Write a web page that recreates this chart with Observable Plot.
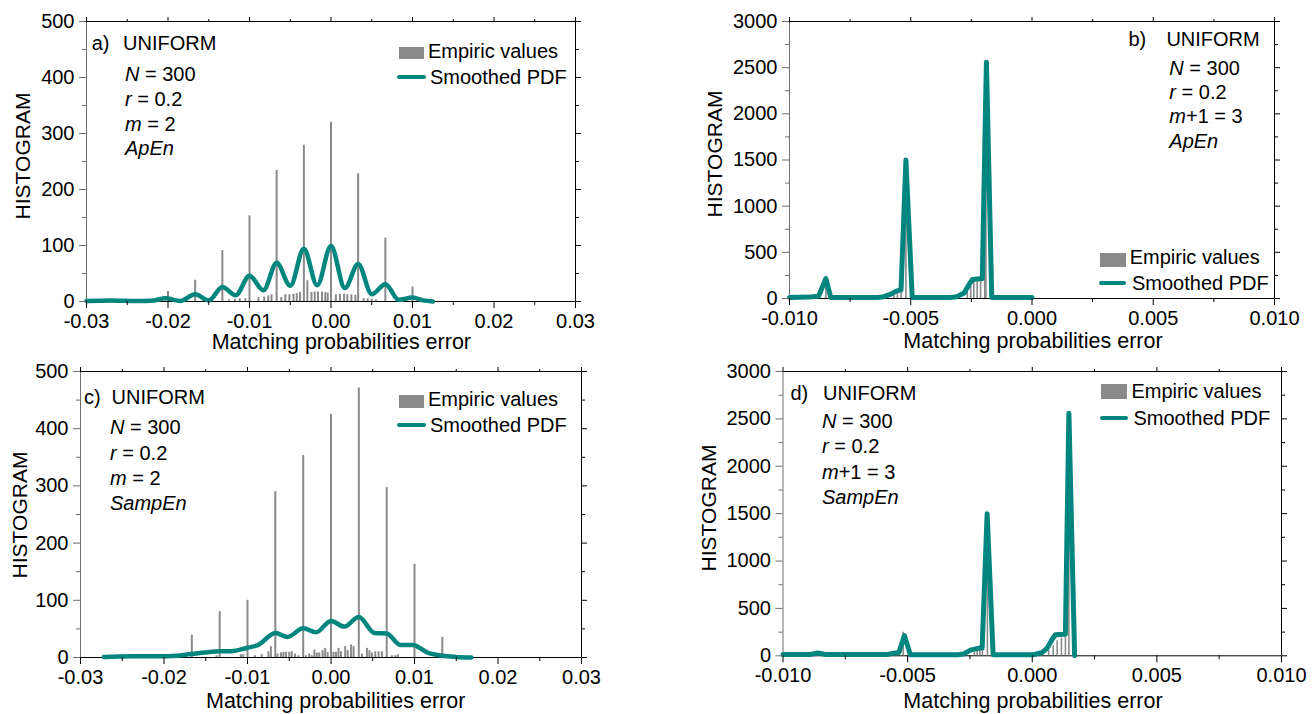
<!DOCTYPE html>
<html><head><meta charset="utf-8">
<script src="https://cdn.jsdelivr.net/npm/d3@7"></script>
<script src="https://cdn.jsdelivr.net/npm/@observablehq/plot@0.6"></script>
<style>
body{margin:0;background:#fff;}
#c{position:relative;width:1315px;height:714px;font-family:"Liberation Sans",Arial,sans-serif;color:#000;overflow:hidden;background:#fff}
.t{position:absolute;white-space:nowrap;line-height:1;font-size:20px}
.sw{position:absolute}
</style></head><body><div id="c"></div>
<script>
// ---------------- DATA ----------------
// Panel a (ApEn, m = 2)
const spikesA_x = [-0.02, -0.01667, -0.01333, -0.01, -0.00667, -0.00333, 0, 0.00333, 0.00667, 0.01];
const spikesA_y = [18, 38, 91, 153, 234, 279, 320, 228, 113, 26];
const fineA_x = [-0.0125, -0.0118, -0.0112, -0.0105, -0.0089, -0.0082, -0.0077, -0.0073, -0.0061, -0.0056, -0.0051, -0.0046, -0.0042, -0.0038, -0.0029, -0.0024, -0.0020, -0.0016, -0.0011, -0.0007, -0.0004, 0.0006, 0.0011, 0.0016, 0.0020, 0.0025, 0.0030, 0.0040, 0.0045, 0.0050, 0.0055];
const fineA_y = [3, 4, 5, 5, 7, 8, 10, 12, 7, 12, 12, 13, 14, 16, 37, 16, 17, 17, 17, 16, 15, 12, 13, 13, 12, 12, 11, 5, 5, 4, 3];
const curveA_x = [-0.03, -0.027, -0.024, -0.0217, -0.0203, -0.0185, -0.01667, -0.015, -0.01333, -0.0117, -0.01, -0.0083, -0.00667, -0.005, -0.00333, -0.0017, 0, 0.0017, 0.00333, 0.005, 0.00667, 0.0083, 0.01, 0.0113, 0.0125];
const curveA_y = [1, 2, 1, 2, 6, 1, 13, 2, 26, 11, 46, 20, 69, 28, 94, 29, 99, 24, 67, 13, 31, 3, 7, 2, 0];

// Panel b (ApEn, m+1 = 3)
const barsB_x = [-0.0085, -0.0057, -0.00555, -0.0054, -0.0052, -0.00267, -0.00253, -0.0024, -0.00226, -0.00212, -0.00195, -0.0019];
const barsB_y = [240, 45, 60, 80, 1500, 70, 140, 190, 200, 215, 1380, 2560];
const curveB_x = [-0.01, -0.0092, -0.0088, -0.0085, -0.0083, -0.0064, -0.0061, -0.0058, -0.0056, -0.0054, -0.0052, -0.00494, -0.0034, -0.0031, -0.0028, -0.0026, -0.00246, -0.00205, -0.00188, -0.00166, 0];
const curveB_y = [12, 15, 25, 216, 12, 12, 20, 50, 80, 94, 1500, 12, 12, 20, 60, 150, 205, 216, 2560, 12, 12];

// Panel c (SampEn, m = 2)
const spikesC_x = [-0.01667, -0.01333, -0.01, -0.00667, -0.00333, 0, 0.00333, 0.00667, 0.01, 0.01333];
const spikesC_y = [39, 80, 100, 290, 353, 425, 471, 297, 163, 35];
const fineC_x = [-0.0137, -0.0108, -0.0105, -0.0091, -0.0083, -0.0075, -0.0072, -0.0064, -0.0060, -0.0057, -0.0054, -0.0050, -0.0047, -0.0043, -0.0039, -0.0030, -0.0026, -0.0023, -0.0020, -0.0017, -0.0014, -0.0010, -0.0007, -0.0004, 0.0003, 0.0006, 0.0009, 0.0012, 0.0017, 0.0020, 0.0024, 0.0027, 0.0037, 0.0043, 0.0046, 0.0049, 0.0053, 0.0057, 0.0061, 0.0073, 0.0077, 0.0080];
const fineC_y = [3, 5, 5, 3, 5, 10, 19, 6, 8, 9, 9, 9, 10, 6, 3, 3, 6, 3, 13, 8, 8, 12, 16, 9, 9, 9, 16, 10, 19, 12, 22, 19, 6, 16, 12, 8, 10, 10, 10, 3, 3, 5];
const curveC_x = [-0.0272, -0.024, -0.02, -0.01667, -0.01333, -0.012, -0.01, -0.0087, -0.00667, -0.0052, -0.00333, -0.0018, 0, 0.0016, 0.00333, 0.0052, 0.00667, 0.0083, 0.0098, 0.0115, 0.01333, 0.015, 0.0168];
const curveC_y = [1, 2, 2, 6, 11, 11, 17, 22, 43, 36, 51, 44, 64, 54, 71, 43, 42, 22, 22, 9, 3, 1, 0];

// Panel d (SampEn, m+1 = 3)
const barsD_x = [-0.0086, -0.00518, -0.00232, -0.00221, -0.0021, -0.002, -0.0018, 0.00066, 0.00084, 0.001, 0.00117, 0.00133, 0.00147];
const barsD_y = [30, 249, 35, 46, 60, 70, 1500, 53, 105, 158, 186, 193, 2560];
const curveD_x = [-0.01, -0.0089, -0.0086, -0.0083, -0.0058, -0.00555, -0.00535, -0.00513, -0.00489, -0.0030, -0.00275, -0.00248, -0.00214, -0.00201, -0.00181, -0.00157, 0.00006, 0.0004, 0.0006, 0.0008, 0.00093, 0.00133, 0.00147, 0.0017];
const curveD_y = [15, 15, 30, 15, 15, 28, 35, 214, 12, 12, 20, 60, 81, 81, 1500, 12, 12, 35, 81, 175, 221, 228, 2560, 0];

// Ticks
const xTicksAC = [-0.03, -0.02, -0.01, 0, 0.01, 0.02, 0.03];
const xMinorAC = [-0.025, -0.015, -0.005, 0.005, 0.015, 0.025];
const yTicksAC = [0, 100, 200, 300, 400, 500];
const yMinorAC = [50, 150, 250, 350, 450];
const xTicksBD = [-0.01, -0.005, 0, 0.005, 0.01];
const xMinorBD = [-0.0075, -0.0025, 0.0025, 0.0075];
const yTicksBD = [0, 500, 1000, 1500, 2000, 2500, 3000];
const yMinorBD = [250, 750, 1250, 1750, 2250, 2750];

// Texts
const xTitle = "Matching probabilities error";
const yTitle = "HISTOGRAM";
const legendBar = "Empiric values";
const legendLine = "Smoothed PDF";
const distName = "UNIFORM";
const annA = ["<i>N</i> = 300", "<i>r</i> = 0.2", "<i>m</i> = 2", "<i>ApEn</i>"];
const annB = ["<i>N</i> = 300", "<i>r</i> = 0.2", "<i>m</i>+1 = 3", "<i>ApEn</i>"];
const annC = ["<i>N</i> = 300", "<i>r</i> = 0.2", "<i>m</i> = 2", "<i>SampEn</i>"];
const annD = ["<i>N</i> = 300", "<i>r</i> = 0.2", "<i>m</i>+1 = 3", "<i>SampEn</i>"];

// ---------------- BUILD ----------------
const TEAL = "#00857f", GREY = "#8a8a8a", AX = "#6e6e6e";
const TICKFONT = 20;
const zip = (xs, ys) => xs.map((x, i) => ({x, y: ys[i]}));
const root = document.getElementById("c");

function makePanel(cfg, d) {
  const svg = Plot.plot({
    width: cfg.width, height: cfg.height,
    marginLeft: cfg.mL, marginRight: cfg.mR, marginTop: cfg.mT, marginBottom: cfg.mB,
    x: {domain: d.xDom, label: null},
    y: {domain: d.yDom, label: null},
    style: {fontFamily: "'Liberation Sans', Arial, sans-serif", fontSize: TICKFONT + "px", color: "#000", background: "transparent", overflow: "visible"},
    marks: [
      Plot.ruleY([d.yDom[1]], {stroke: "#000"}),
      Plot.ruleX([d.xDom[1]], {stroke: "#000"}),
      Plot.ruleY([d.yDom[0]], {stroke: "#000"}),
      Plot.ruleX([d.xDom[0]], {stroke: AX}),
      Plot.ruleX(d.bars, {x: "x", y1: 0, y2: "y", stroke: GREY, strokeWidth: d.barW}),
      Plot.line(d.curve, {x: "x", y: "y", stroke: TEAL, strokeWidth: d.lineW, curve: d.curveType, strokeLinejoin: "round", strokeLinecap: "round"}),
      Plot.axisX(d.xMajor, {anchor: "bottom", tickSize: 7, tickPadding: 5, tickFormat: d.xFmt, stroke: "#000", fill: "#000", fontSize: TICKFONT, label: null}),
      Plot.axisX(d.xMinor, {anchor: "bottom", tickSize: 4, stroke: "#000", fill: "none", label: null}),
      Plot.axisX(d.xMajor, {anchor: "top", tickSize: 5, stroke: "#000", fill: "none", label: null}),
      Plot.axisX(d.xMinor, {anchor: "top", tickSize: 3, stroke: "#000", fill: "none", label: null}),
      Plot.axisY(d.yMajor, {anchor: "left", tickSize: 7, tickPadding: 5, tickFormat: v => String(v), stroke: AX, fill: "#000", fontSize: TICKFONT, label: null}),
      Plot.axisY(d.yMinor, {anchor: "left", tickSize: 4, stroke: AX, fill: "none", label: null}),
      Plot.axisY(d.yMajor, {anchor: "right", tickSize: 5, stroke: "#000", fill: "none", label: null}),
      Plot.axisY(d.yMinor, {anchor: "right", tickSize: 3, stroke: "#000", fill: "none", label: null})
    ]
  });
  svg.style.position = "absolute";
  svg.style.left = cfg.left + "px";
  svg.style.top = cfg.top + "px";
  svg.style.maxWidth = "none";
  root.appendChild(svg);

  // overlay texts
  const t = (html, x, cy, size, extra) => {
    const e = document.createElement("div");
    e.className = "t"; e.innerHTML = html;
    e.style.left = x + "px"; e.style.top = (cy - size / 2) + "px"; e.style.fontSize = size + "px";
    if (extra) Object.assign(e.style, extra);
    root.appendChild(e);
    return e;
  };
  const a = cfg.ann;
  t(d.tag, a.tagX, a.titleY, 20);
  t(distName, a.titleX, a.titleY, 20);
  d.ann.forEach((s, i) => t(s, a.linesX, a.linesY[i], 20));
  const g = cfg.leg;
  const r = document.createElement("div"); r.className = "sw";
  Object.assign(r.style, {left: g.rx + "px", top: g.ry + "px", width: g.rw + "px", height: g.rh + "px", background: GREY});
  root.appendChild(r);
  const l = document.createElement("div"); l.className = "sw";
  Object.assign(l.style, {left: g.lx + "px", top: (g.ly - 2) + "px", width: g.lw + "px", height: "4px", background: TEAL, borderRadius: "2px"});
  root.appendChild(l);
  t(legendBar, g.t1x, g.t1y, 20);
  t(legendLine, g.t2x, g.t2y, 20);
  // axis titles
  t(xTitle, cfg.xt.x, cfg.xt.y, 21.5);
  const yt = t(yTitle, cfg.yt.x, cfg.yt.y, 21, {transform: "translate(-50%,-50%) rotate(-90deg)"});
  yt.style.top = cfg.yt.y + "px";
}

const fmt2 = v => v.toFixed(2), fmt3 = v => v.toFixed(3);
const common = {
  ac: {xDom: [-0.03, 0.03], yDom: [0, 500], xMajor: xTicksAC, xMinor: xMinorAC, yMajor: yTicksAC, yMinor: yMinorAC, xFmt: fmt2, barW: 2, lineW: 4.5, curveType: "monotone-x"},
  bd: {xDom: [-0.01, 0.01], yDom: [0, 3000], xMajor: xTicksBD, xMinor: xMinorBD, yMajor: yTicksBD, yMinor: yMinorBD, xFmt: fmt3, barW: 1.6, lineW: 5, curveType: "linear"}
};

makePanel(
  {left: 0, top: 0, width: 650, height: 355, mL: 86, mR: 75, mT: 21, mB: 54,
   ann: {tagX: 91.7, titleX: 123, titleY: 42.5, linesX: 125, linesY: [74, 99, 124, 148]},
   leg: {rx: 398.6, ry: 46.7, rw: 25, rh: 12.6, t1x: 428, t1y: 51, lx: 397, ly: 77, lw: 29, t2x: 430, t2y: 77},
   xt: {x: 211.7, y: 343}, yt: {x: 21.5, y: 156}},
  {...common.ac, tag: "a)", ann: annA, bars: zip(spikesA_x, spikesA_y).concat(zip(fineA_x, fineA_y)), curve: zip(curveA_x, curveA_y)}
);
makePanel(
  {left: 660, top: 0, width: 655, height: 355, mL: 129, mR: 41, mT: 21, mB: 57,
   ann: {tagX: 1128.5, titleX: 1166.4, titleY: 39, linesX: 1169.3, linesY: [68, 92, 116, 141]},
   leg: {rx: 1100, ry: 253.3, rw: 25.5, rh: 13.4, t1x: 1129.7, t1y: 257, lx: 1099, ly: 283, lw: 27, t2x: 1132, t2y: 283},
   xt: {x: 903.3, y: 342}, yt: {x: 714, y: 154}},
  {...common.bd, tag: "b)", ann: annB, bars: zip(barsB_x, barsB_y), curve: zip(curveB_x, curveB_y)}
);
makePanel(
  {left: 0, top: 355, width: 650, height: 359, mL: 80, mR: 69, mT: 16, mB: 57,
   ann: {tagX: 84, titleX: 111.5, titleY: 396.7, linesX: 110, linesY: [427, 452.7, 478, 503]},
   leg: {rx: 398.6, ry: 395, rw: 25, rh: 13, t1x: 428, t1y: 399, lx: 397, ly: 425, lw: 29, t2x: 430, t2y: 425},
   xt: {x: 206, y: 701.7}, yt: {x: 19, y: 515}},
  {...common.ac, tag: "c)", ann: annC, bars: zip(spikesC_x, spikesC_y).concat(zip(fineC_x, fineC_y)), curve: zip(curveC_x, curveC_y)}
);
makePanel(
  {left: 660, top: 355, width: 655, height: 359, mL: 122.5, mR: 34, mT: 16, mB: 58.7,
   ann: {tagX: 790.5, titleX: 823, titleY: 393, linesX: 822, linesY: [421, 446, 471.7, 496.7]},
   leg: {rx: 1101, ry: 384, rw: 26, rh: 15, t1x: 1131.4, t1y: 391, lx: 1100, ly: 418, lw: 28, t2x: 1133.5, t2y: 418},
   xt: {x: 903.3, y: 701.7}, yt: {x: 707.5, y: 508}},
  {...common.bd, tag: "d)", ann: annD, bars: zip(barsD_x, barsD_y), curve: zip(curveD_x, curveD_y)}
);
</script></body></html>
